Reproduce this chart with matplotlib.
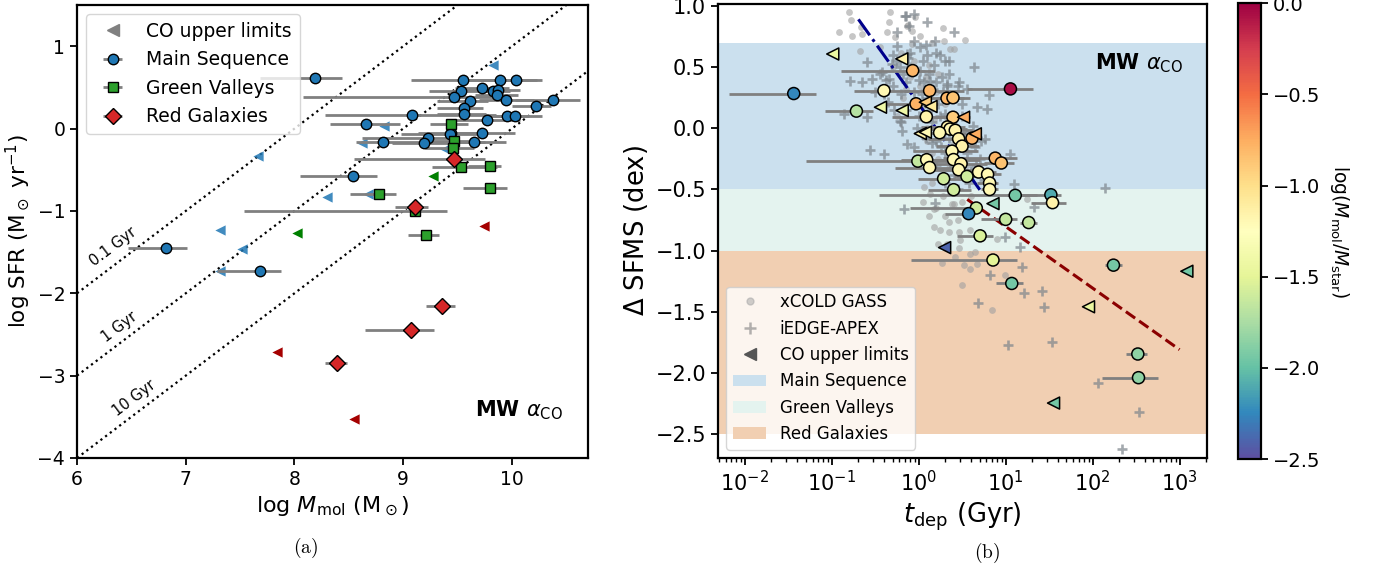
import numpy as np
import matplotlib
matplotlib.use("Agg")
import matplotlib.pyplot as plt
from matplotlib.lines import Line2D
from matplotlib.patches import Patch
from matplotlib.colors import Normalize

# ---------------- Panel (a) data ----------------
ms_logM = [8.185, 9.549, 9.894, 10.035, 9.535, 9.725, 9.83, 9.877, 9.471, 9.612, 9.859, 9.95, 10.38, 10.22,
           9.563, 9.56, 9.077, 9.958, 10.025, 9.775, 8.654, 9.436, 9.43, 9.725, 9.225, 9.193, 8.812, 9.648,
           8.54, 6.821, 7.684]
ms_logSFR = [0.62, 0.588, 0.588, 0.588, 0.46, 0.488, 0.46, 0.472, 0.388, 0.34, 0.404, 0.348, 0.344, 0.28,
             0.252, 0.176, 0.16, 0.156, 0.156, 0.104, 0.056, -0.048, -0.068, -0.048, -0.108, -0.176, -0.164,
             -0.164, -0.58, -1.452, -1.728]
ms_err_lo = [0.5, 0.48, 0.3, 0.2, 0.3, 0.25, 0.15, 0.3, 1.39, 0.3, 0.2, 0.25, 0.35, 0.22, 0.25, 0.25, 0.8,
             0.2, 0.2, 0.3, 0.33, 0.3, 0.45, 0.3, 0.6, 0.3, 0.25, 0.4, 0.49, 0.35, 0.4]
ms_err_hi = [0.25, 0.73, 0.25, 0.2, 0.3, 0.25, 0.15, 0.2, 0.4, 0.17, 0.2, 0.25, 0.25, 0.14, 0.17, 0.2, 0.78,
             0.2, 0.25, 0.3, 0.32, 0.3, 0.3, 0.3, 0.2, 0.3, 0.94, 0.3, 0.22, 0.19, 0.19]

gv_logM = [9.443, 9.471, 9.454, 9.531, 9.799, 9.803, 8.774, 9.112, 9.21]
gv_logSFR = [0.052, -0.148, -0.24, -0.46, -0.448, -0.724, -0.792, -1.0, -1.296]
gv_err_lo = [0.2, 0.2, 0.25, 0.27, 0.2, 0.25, 0.26, 1.58, 0.17]
gv_err_hi = [0.15, 0.15, 0.2, 0.33, 0.1, 0.15, 0.16, 0.29, 0.12]

rg_logM = [9.471, 9.108, 9.359, 9.073, 8.389]
rg_logSFR = [-0.364, -0.952, -2.152, -2.444, -2.844]
rg_err_lo = [0.92, 0.18, 0.15, 0.42, 0.11]
rg_err_hi = [0.28, 0.12, 0.12, 0.21, 0.09]

ul_ms_logM = [9.83, 8.82, 8.62, 9.383, 7.667, 8.301, 7.315, 7.519, 7.315, 8.678]
ul_ms_logSFR = [0.768, 0.032, -0.176, -0.248, -0.328, -0.832, -1.228, -1.456, -1.728, -0.796]
ul_gv_logM = [9.27, 8.02]
ul_gv_logSFR = [-0.572, -1.268]
ul_rg_logM = [9.746, 7.843, 8.545]
ul_rg_logSFR = [-1.18, -2.712, -3.532]

tdep_lines_gyr = [0.1, 1, 10]
tdep_line_labels = ["0.1 Gyr", "1 Gyr", "10 Gyr"]

# ---------------- Panel (b) data ----------------
# detections: log10 t_dep [Gyr], Delta SFMS, log(Mmol/Mstar), error (dex, left/right)
det_logt = [-1.438, -0.40, -0.717, -0.07, 0.125, -0.031, 0.325, 0.394, 0.087, 0.394, 0.33, 0.36, 0.42, 0.24,
            0.459, 0.613, 0.498, 0.383, 0.40, 0.487, 0.88, 0.95, -0.01, 0.091, 0.125, 0.459, 0.689, 0.792,
            0.815, 0.815, 0.286, 0.555, 0.401, 1.055, 1.11, 1.52, 1.539, 0.662, 0.574, 1.0, 1.265, 0.706,
            0.854, 2.24, 1.07, 2.52, 2.528]
det_dsfms = [0.286, 0.31, 0.142, 0.474, 0.31, 0.202, 0.248, 0.252, 0.096, 0.092, 0.012, -0.005, -0.015,
             -0.035, -0.085, -0.08, -0.145, -0.186, -0.255, -0.289, -0.243, -0.283, -0.268, -0.256, -0.32,
             -0.338, -0.357, -0.376, -0.447, -0.5, -0.412, -0.393, -0.502, 0.324, -0.548, -0.543, -0.608,
             -0.652, -0.698, -0.745, -0.771, -0.88, -1.078, -1.12, -1.27, -1.848, -2.042]
det_fmol = [-2.25, -1.2, -1.7, -0.8, -0.8, -0.78, -0.8, -0.85, -1.15, -0.9, -1.15, -1.2, -1.15, -1.2, -1.15,
            -0.78, -1.15, -1.2, -1.2, -1.15, -0.8, -0.85, -1.65, -1.2, -1.2, -1.2, -1.2, -1.2, -1.2, -1.2,
            -1.6, -1.6, -1.6, -0.05, -1.95, -2.1, -1.15, -1.6, -2.25, -1.65, -1.65, -1.55, -1.5, -1.95,
            -1.95, -1.85, -1.85]
det_err_lo = [0.74, 0.34, 0.36, 0.82, 0.3, 0.35, 0.2, 0.2, 0.4, 0.2, 0.3, 0.25, 0.2, 0.3, 0.35, 0.2, 0.3,
              0.45, 0.3, 0.3, 0.6, 0.2, 1.29, 0.3, 0.4, 0.3, 0.3, 0.2, 0.15, 0.1, 0.3, 0.15, 0.3, 0.5, 1.57,
              0.5, 0.25, 0.76, 0.27, 0.28, 0.1, 0.27, 0.94, 0.1, 0.18, 0.14, 0.42]
det_err_hi = [0.26, 0.3, 0.19, 0.26, 0.4, 0.25, 0.2, 0.2, 0.3, 0.2, 0.2, 0.2, 0.2, 0.3, 0.2, 0.1, 0.2, 0.3,
              0.3, 0.3, 0.25, 0.15, 0.4, 0.3, 0.3, 0.2, 0.2, 0.15, 0.1, 0.1, 0.2, 0.15, 0.2, 0.26, 0.25,
              0.12, 0.15, 0.05, 0.05, 0.13, 0.1, 0.15, 0.28, 0.1, 0.13, 0.11, 0.22]

ul_logt = [-0.989, -0.195, -0.44, -0.19, 0.076, 0.141, 0.516, 0.018, 0.076, 0.651, 0.854, 0.298, 3.084,
           1.953, 1.551]
ul_dsfms = [0.61, 0.57, 0.174, 0.147, 0.215, 0.18, 0.092, -0.042, -0.031, -0.044, -0.616, -0.976, -1.17,
            -1.461, -2.25]
ul_fmol = [-1.45, -1.15, -1.4, -1.4, -0.9, -1.1, -0.75, -1.15, -1.2, -0.75, -1.95, -2.4, -1.95, -1.45, -1.95]

# xCOLD GASS comparison sample (log t_dep, Delta SFMS)
xcg_logt = [-0.806, -0.778, -0.913, -0.767, -0.663, -0.652, -0.334, -0.346, -0.364, -0.679, -0.441, -0.269,
            -0.039, -0.134, -0.077, 0.018, 0.536, 0.363, 0.401, 0.286, -0.077,
            0.056, 0.133, 0.363, 0.171, 0.248, 0.344, 0.459, 0.593, 0.459, 0.478, 0.593, 0.651, 0.593, 0.67,
            0.498, 0.995, 1.245, 0.9, 0.171, 0.401, 0.843,
            -0.2, -0.1, 0.02, 0.12, 0.2, -0.25, -0.15, 0.05, 0.18, 0.28, 0.4, 0.1, 0.22, 0.35, 0.48, 0.25,
            0.15, 0.05, 0.2, 0.3, 0.38, 0.12, 0.32, 0.42, 0.27, 0.52,
            -0.3, -0.18, -0.05, 0.08, 0.22, 0.3, 0.0, 0.1, 0.32, 0.45, 0.15, 0.4, 0.55, 0.6, 0.5, 0.28,
            0.35, 0.22, 0.45, 0.15, -0.12, 0.28]
xcg_dsfms = [0.951, 0.888, 0.787, 0.760, 0.828, 0.774, 0.956, 0.869, 0.787, 0.637, 0.665, 0.746,
             0.91, 0.842, 0.801, 0.76, 0.725, 0.651, 0.651, 0.719, 0.692,
             -0.48, -0.534, -0.521, -0.807, -0.834, -0.766, -0.848, -0.834, -0.976, -0.916, -1.025, -1.012,
             -1.148, -1.107, -1.284, -1.202, -0.575, -0.902, -0.657, -0.616, -1.488,
             0.62, 0.42, 0.35, 0.52, 0.30, 0.10, 0.32, 0.18, 0.08, -0.05, -0.12, -0.10, -0.25, -0.32, -0.40,
             -0.40, -0.45, -0.60, -0.65, -0.72, -0.62, -0.72, -0.95, -1.05, -1.10, -1.12,
             0.50, 0.25, 0.55, 0.42, 0.45, 0.20, 0.20, 0.00, 0.05, -0.05, -0.20, -0.22, -0.30, -0.55,
             -0.60, -0.55, -0.85, -0.95, -0.75, 0.70, 0.85, 0.82]

# iEDGE-APEX comparison sample (log t_dep, Delta SFMS)
iedge_logt = [-0.146, -0.116, -0.25, -0.25, -0.594, -0.786, -0.652, -0.537, -0.422, -0.307, -0.346, -0.403,
              -0.594, -0.863, -0.556, -0.403, -0.192, -0.134, -0.211,
              -0.154, -0.059, 0.095, 0.401, 0.191, 0.631, 0.803, 0.67, 0.785, 1.053, 0.766, 0.555, 0.459,
              0.344, 0.325, 0.018, 0.133, -0.134,
              2.145, 1.091, 1.321, 0.191, -0.173, 0.995, 1.168, 1.187, 0.823, 1.206, 1.417, 0.682, 1.436,
              1.022, 1.536, 2.061, 2.532, 2.337,
              -0.25, -0.18, -0.1, 0.0, 0.05, 0.12, 0.2, 0.28, -0.3, -0.2, -0.05, 0.1, 0.22, 0.3, -0.15, 0.0,
              0.15, 0.25, 0.35, 0.45, 0.05, 0.15, 0.3, 0.5, 0.6, 0.4, 0.2, 0.1, -0.05, 0.55, 0.65, 0.7,
              -0.35, -0.45, -0.5, 0.35, 0.4, 0.5, 0.62, -0.1, 0.08, 0.25, 0.75, 0.3, 0.45,
              -0.3, -0.22, -0.12, 0.02, 0.1, 0.18, 0.27, 0.33, -0.38, -0.28, -0.08, 0.04, 0.14, 0.24, 0.38,
              -0.02, 0.08, 0.2, 0.42, 0.55, 0.26, 0.12, 0.36, 0.48, 0.58, 0.66, 0.72, 0.5, 0.45, -0.2,
              -0.4, -0.15, 0.06, 0.16, 0.2, 0.3, -0.05, 0.42]
iedge_dsfms = [0.924, 0.842, 0.787, 0.678, 0.542, 0.392, 0.378, 0.406, 0.46, 0.529, 0.406, 0.283,
               0.092, 0.12, -0.18, -0.207, -0.017, -0.126, 0.065,
               0.924, 0.938, 0.869, 0.787, 0.719, 0.501, 0.27, 0.174, 0.161, -0.207, -0.084, 0.324, 0.378,
               0.556, 0.365, 0.665, 0.392, 0.61,
               -0.488, -0.458, -0.644, -0.611, -0.657, -0.889, -0.971, -1.139, -1.202, -1.352, -1.331,
               -1.434, -1.461, -1.777, -1.75, -2.085, -2.322, -2.63,
               0.55, 0.45, 0.50, 0.40, 0.55, 0.45, 0.38, 0.30, 0.35, 0.28, 0.30, 0.25, 0.20, 0.12, 0.15, 0.10,
               0.05, -0.02, -0.08, -0.15, -0.05, -0.12, -0.20, -0.28, -0.35, -0.38, -0.30, -0.22, -0.15,
               -0.05, -0.15, -0.25, 0.22, 0.45, 0.30, 0.45, 0.25, 0.10, 0.02, 0.62, 0.68, 0.60, -0.42,
               -0.45, -0.50,
               0.60, 0.50, 0.58, 0.47, 0.60, 0.52, 0.42, 0.35, 0.40, 0.15, 0.20, 0.28, 0.15, 0.10, 0.05,
               0.00, -0.08, -0.10, -0.25, -0.20, -0.15, -0.30, -0.28, -0.33, -0.45, -0.30, -0.10, 0.20,
               0.35, 0.05, 0.30, 0.38, 0.38, 0.32, 0.62, 0.55, 0.72, 0.00]

# regime bands (Delta SFMS limits)
band_names = ["Main Sequence", "Green Valleys", "Red Galaxies"]
band_lo = [-0.5, -1.0, -2.5]
band_hi = [0.7, -0.5, -1.0]
band_colors = ["#cbe0ee", "#e4f3ef", "#f1cfb2"]

# fitted relations (log t_dep range, intercept, slope)
fit_ms_logt = [-0.694, 0.703]
fit_ms_coef = (0.2, -1.0)
fit_rg_logt = [0.558, 3.0]
fit_rg_coef = (-0.3, -0.504)

# ---------------- Figure ----------------
fig = plt.figure(figsize=(13.9, 5.74), dpi=100)
ax1 = fig.add_axes([0.0554, 0.2021, 0.3676, 0.789])
ax2 = fig.add_axes([0.5165, 0.2021, 0.3521, 0.791])
cax = fig.add_axes([0.8904, 0.2003, 0.01655, 0.794])

for a in (ax1, ax2, cax):
    for s in a.spines.values():
        s.set_linewidth(1.6)

ecol = "#808080"

# ---- panel (a)
xl = np.array([6.0, 10.7])
for t, lab in zip(tdep_lines_gyr, tdep_line_labels):
    ax1.plot(xl, xl - 9 - np.log10(t), ls=":", color="k", lw=1.6, zorder=1)
lab_pos = [(6.335, -1.43), (6.39, -2.41), (6.53, -3.27)]
for (px, py), lab in zip(lab_pos, tdep_line_labels):
    ax1.text(px, py, lab, rotation=37, ha="center", va="center", fontsize=10.5)

ax1.scatter(ul_ms_logM, ul_ms_logSFR, marker="<", s=55, color="tab:blue", alpha=0.85, lw=0, zorder=3)
ax1.scatter(ul_gv_logM, ul_gv_logSFR, marker="<", s=55, color="green", lw=0, zorder=3)
ax1.scatter(ul_rg_logM, ul_rg_logSFR, marker="<", s=55, color="#a50000", lw=0, zorder=3)

h_ms = ax1.errorbar(ms_logM, ms_logSFR, xerr=[ms_err_lo, ms_err_hi], fmt="o", mfc="tab:blue", mec="k",
                    mew=1.0, ms=7.5, ecolor=ecol, elinewidth=2, capsize=0, zorder=4)
h_gv = ax1.errorbar(gv_logM, gv_logSFR, xerr=[gv_err_lo, gv_err_hi], fmt="s", mfc="tab:green", mec="k",
                    mew=1.0, ms=7.5, ecolor=ecol, elinewidth=2, capsize=0, zorder=4)
h_rg = ax1.errorbar(rg_logM, rg_logSFR, xerr=[rg_err_lo, rg_err_hi], fmt="D", mfc="tab:red", mec="k",
                    mew=1.0, ms=8, ecolor=ecol, elinewidth=2, capsize=0, zorder=4)
h_ul = Line2D([], [], marker="<", ls="none", color="grey", ms=8)
ax1.legend([h_ul, h_ms, h_gv, h_rg], ["CO upper limits", "Main Sequence", "Green Valleys", "Red Galaxies"],
           loc="upper left", fontsize=13.5, framealpha=0.8)

ax1.set_xlim(6, 10.7)
ax1.set_ylim(-4, 1.5)
ax1.set_xticks([6, 7, 8, 9, 10])
ax1.set_yticks([-4, -3, -2, -1, 0, 1])
ax1.tick_params(labelsize=13.5, width=1.3, length=5)
ax1.set_xlabel(r"log $M_{\rm mol}$ (M$_\odot$)", fontsize=16)
ax1.set_ylabel(r"log SFR (M$_\odot$ yr$^{-1}$)", fontsize=15.5)
ax1.text(0.95, 0.106, r"MW $\alpha_{\rm CO}$", transform=ax1.transAxes, ha="right", va="center",
         fontsize=15, fontweight="bold")

# ---- panel (b)
for lo, hi, col in zip(band_lo, band_hi, band_colors):
    ax2.axhspan(lo, hi, color=col, lw=0, zorder=0)

ax2.scatter(10 ** np.array(xcg_logt), xcg_dsfms, s=24, color="#a0a0a0", alpha=0.6, lw=0, zorder=1)
ax2.scatter(10 ** np.array(iedge_logt), iedge_dsfms, s=50, marker="+", color="#7d858c", alpha=0.7, lw=1.9,
            zorder=1)

cmap = plt.get_cmap("Spectral_r")
norm = Normalize(vmin=-2.5, vmax=0.0)

xa = np.array(fit_ms_logt)
ax2.plot(10 ** xa, fit_ms_coef[0] + fit_ms_coef[1] * xa, color="darkblue", ls="-.", lw=2.2, zorder=2)
xb = np.array(fit_rg_logt)
ax2.plot(10 ** xb, fit_rg_coef[0] + fit_rg_coef[1] * xb, color="darkred", ls="--", lw=2.2, zorder=2)

t = 10 ** np.array(det_logt)
xerr = [t - t * 10 ** (-np.array(det_err_lo)), t * 10 ** np.array(det_err_hi) - t]
ax2.errorbar(t, det_dsfms, xerr=xerr, fmt="none", ecolor=ecol, elinewidth=2, capsize=0, zorder=3)
sc = ax2.scatter(t, det_dsfms, c=det_fmol, cmap=cmap, norm=norm, s=75, edgecolors="k", linewidths=1.1,
                 zorder=4)
ax2.scatter(10 ** np.array(ul_logt), ul_dsfms, c=ul_fmol, cmap=cmap, norm=norm, marker="<", s=75,
            edgecolors="k", linewidths=1.1, zorder=4)

ax2.set_xscale("log")
ax2.set_xlim(10 ** -2.31, 10 ** 3.32)
ax2.set_ylim(-2.7, 1.02)
ax2.set_yticks([-2.5, -2.0, -1.5, -1.0, -0.5, 0.0, 0.5, 1.0])
ax2.set_yticklabels(["\u22122.5", "\u22122.0", "\u22121.5", "\u22121.0", "\u22120.5", "0.0", "0.5", "1.0"])
ax2.tick_params(labelsize=15, width=1.3, length=5)
ax2.tick_params(which="minor", width=1.0, length=3)
ax2.set_xlabel(r"$t_{\rm dep}$ (Gyr)", fontsize=18.5)
ax2.set_ylabel(r"$\Delta$ SFMS (dex)", fontsize=18.5)
ax2.text(0.95, 0.87, r"MW $\alpha_{\rm CO}$", transform=ax2.transAxes, ha="right", va="center",
         fontsize=15, fontweight="bold")

leg_handles = [
    Line2D([], [], marker="o", ls="none", color="#a9a9a9", alpha=0.55, ms=5),
    Line2D([], [], marker="+", ls="none", color="grey", alpha=0.6, ms=9, mew=1.8),
    Line2D([], [], marker="<", ls="none", color="#555555", ms=9),
] + [Patch(facecolor=c, edgecolor="none") for c in band_colors]
ax2.legend(leg_handles, ["xCOLD GASS", "iEDGE-APEX", "CO upper limits"] + band_names, loc="lower left",
           fontsize=12, framealpha=0.8)

cb = fig.colorbar(sc, cax=cax)
cb.set_ticks([0.0, -0.5, -1.0, -1.5, -2.0, -2.5])
cb.set_ticklabels(["0.0", "\u22120.5", "\u22121.0", "\u22121.5", "\u22122.0", "\u22122.5"])
cb.ax.tick_params(labelsize=14, width=1.3, length=5)
cb.outline.set_linewidth(1.6)
cb.set_label(r"log($M_{\rm mol}/M_{\rm star}$)", rotation=270, labelpad=22, fontsize=13.5)

fig.text(0.220, 0.045, r"$\mathrm{(a)}$", ha="center", va="center", fontsize=14, math_fontfamily="cm")
fig.text(0.710, 0.036, r"$\mathrm{(b)}$", ha="center", va="center", fontsize=14, math_fontfamily="cm")

fig.savefig("out.png", dpi=100)
